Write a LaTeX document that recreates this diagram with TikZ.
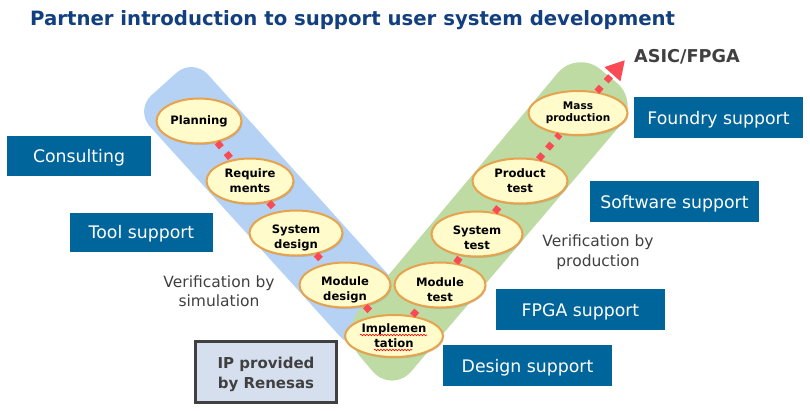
\documentclass[tikz,border=0pt]{standalone}
\usepackage{fontspec}
\setmainfont{DejaVu Sans}
\usetikzlibrary{shapes.geometric,arrows.meta,shadows,decorations.pathmorphing}
\definecolor{boxblue}{HTML}{00659B}
\definecolor{titleblue}{HTML}{123F7F}
\definecolor{bandblue}{HTML}{B5D2F5}
\definecolor{bandgreen}{HTML}{BDDBA3}
\definecolor{stepfill}{HTML}{FFFBCB}
\definecolor{stepline}{HTML}{E7A24E}
\definecolor{flowred}{HTML}{FA4B55}
\definecolor{textgray}{HTML}{404040}
\definecolor{ipfill}{HTML}{D6DFEE}
\newcommand{\lowtext}[1]{\rule{0pt}{#1}}
\tikzset{
  stage/.style={ellipse,draw=stepline,line width=2pt,fill=stepfill,inner sep=-9pt,align=center,
    minimum width=91pt,minimum height=45pt,font=\fontsize{11.6}{15}\selectfont\bfseries,
    drop shadow={shadow xshift=1pt,shadow yshift=-1.5pt,opacity=.3}},
  support/.style={rectangle,fill=boxblue,text=white,inner sep=0pt,minimum width=169pt,minimum height=41pt,
    text height=13pt,text depth=0pt,font=\fontsize{17.3}{22}\selectfont},
  note/.style={align=center,text=textgray,font=\fontsize{15.5}{19.5}\selectfont},
  flow/.style={draw=flowred,line width=6.5pt,dash pattern=on 6.5pt off 7.5pt},
  spell/.style={draw=red,line width=.6pt,decorate,decoration={snake,amplitude=.8pt,segment length=3pt}}
}
\begin{document}
\begin{tikzpicture}[x=1pt,y=-1pt]
  \useasboundingbox (0,0) rectangle (810,410);

  \path[fill=bandblue,rounded corners=22pt] (193,58) -- (412,301) -- (355,353) -- (135,110) -- cycle;
  \path[fill=bandgreen,rounded corners=30pt] (340,333) -- (577,50) -- (640,102) -- (392,394) -- cycle;

  \path (30,10) node[anchor=north west,inner sep=0pt,text=titleblue,font=\fontsize{19.7}{24}\selectfont\bfseries] (title) {Partner introduction to support user system development};

  \path (199,121) node[stage,minimum width=85pt] (planning) {Planning};
  \path (250,181) node[stage,minimum width=87pt] (require) {Require\\ments};
  \path (296,233) node[stage,minimum width=93pt] (sysdesign) {\lowtext{18pt}System\\design};
  \path (345,285) node[stage] (moddesign) {\lowtext{18pt}Module\\design};
  \path (394,336) node[stage,minimum width=98pt,minimum height=42pt] (impl) {Implemen\\tation};
  \path (440,285) node[stage] (modtest) {\lowtext{18pt}Module\\test};
  \path (477,234) node[stage] (systest) {\lowtext{16pt}System\\test};
  \path (520,181) node[stage,minimum width=95pt] (prodtest) {Product\\test};
  \path (578,113) node[stage,minimum width=99pt,minimum height=44pt,font=\fontsize{10.5}{12.5}\selectfont\bfseries] (mass) {Mass\\production};
  \coordinate (tip) at (625,60);

  \draw[flow] (planning) -- (require);
  \draw[flow] (require) -- (sysdesign);
  \draw[flow] (sysdesign) -- (moddesign);
  \draw[flow] (moddesign) -- (impl);
  \draw[flow] (impl) -- (modtest);
  \draw[flow] (modtest) -- (systest);
  \draw[flow] (systest) -- (prodtest);
  \draw[flow] (prodtest) -- (mass);
  \draw[flow,-{Triangle[length=19pt,width=20pt]}] (mass) -- (tip);

  \coordinate (wavea) at (360,335);
  \coordinate (waveb) at (427,335);
  \coordinate (wavec) at (374,350);
  \coordinate (waved) at (412,350);
  \draw[spell] (wavea) -- (waveb);
  \draw[spell] (wavec) -- (waved);

  \path (79,156) node[support,minimum width=144pt,minimum height=40pt] (consulting) {Consulting};
  \path (141.5,232) node[support,minimum width=143pt,minimum height=39pt] (tool) {Tool support};
  \path (718.5,117.5) node[support] (foundry) {Foundry support};
  \path (674.5,201.5) node[support] (software) {Software support};
  \path (580.5,309.5) node[support] (fpga) {FPGA support};
  \path (527.5,365.5) node[support] (design) {Design support};

  \path (266,372) node[rectangle,draw=textgray,line width=2.2pt,fill=ipfill,align=center,text=textgray,minimum width=141pt,minimum height=61pt,inner sep=0pt,font=\fontsize{15}{20}\selectfont\bfseries] (ip) {\rule{0pt}{17pt}IP provided\\by Renesas};

  \path (219,291) node[note] (versim) {Verification by\\simulation};
  \path (598,252) node[note] (verprod) {Verification by\\production};
  \path (687,57) node[text=textgray,font=\fontsize{17.7}{20}\selectfont\bfseries] (asic) {ASIC/FPGA};
\end{tikzpicture}
\end{document}
